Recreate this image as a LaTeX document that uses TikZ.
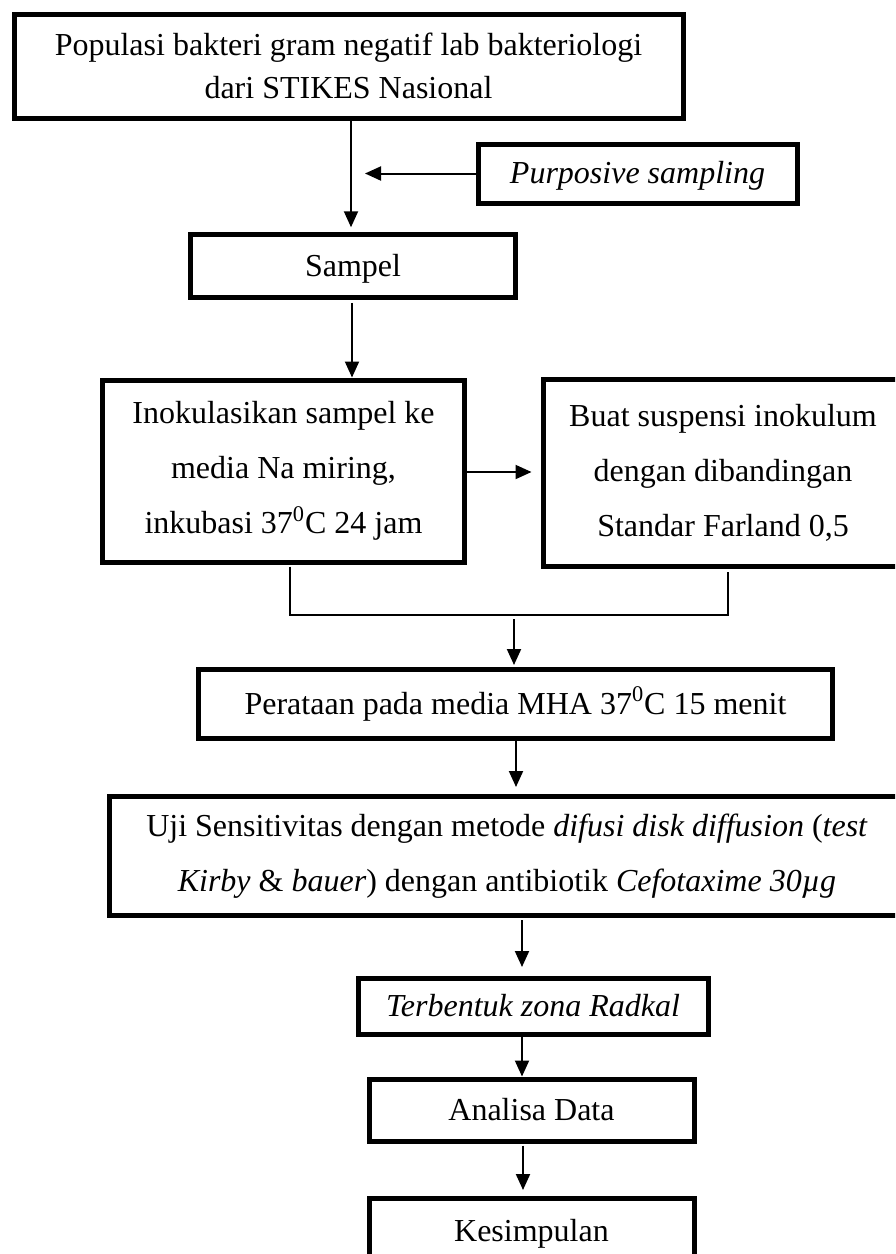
\documentclass[tikz,border=0pt]{standalone}
\usepackage{fontspec}
\setmainfont{Liberation Serif}
\usetikzlibrary{arrows.meta,calc}
\begin{document}
\begin{tikzpicture}[x=0.5pt,y=-0.5pt,
  box/.style={draw, line width=2.5pt, rectangle, inner sep=0pt, align=center,
    font=\fontsize{16}{27.5}\selectfont},
  oneline/.style={text height=13pt, text depth=3pt},
  arr/.style={line width=1pt, -{Triangle[length=8pt,width=7pt]}},
  thinline/.style={line width=0.7pt}]
\clip (0,0) rectangle (895,1254);
\fill[white] (0,0) rectangle (895,1254);

\node[box, minimum width=334.5pt, minimum height=52pt, font=\fontsize{16}{21.5}\selectfont] (top) at (348.5,66)
  {Populasi bakteri gram negatif lab bakteriologi\\dari STIKES Nasional};
\node[box, oneline, minimum width=159.5pt, minimum height=29.5pt] (purp) at (637.5,173.5)
  {\textit{Purposive sampling}};
\node[box, oneline, minimum width=162.5pt, minimum height=31.25pt] (sampel) at (353,266) {Sampel};
\node[box, minimum width=181pt, minimum height=91pt] (inoc) at (283.5,471)
  {Inokulasikan sampel ke\\media Na miring,\\inkubasi 37\textsuperscript{0}C 24 jam};
\node[box, minimum width=180pt, minimum height=93.25pt] (buat) at (723,473)
  {Buat suspensi inokulum\\dengan dibandingan\\Standar Farland 0,5};
\node[box, minimum width=317pt, minimum height=34.5pt] (perataan) at (515.5,704)
  {Perataan pada media MHA 37\textsuperscript{0}C 15 menit};
\node[box, minimum width=397.5pt, minimum height=59.5pt] (uji) at (507,856)
  {Uji Sensitivitas dengan metode \textit{difusi disk diffusion} (\textit{test}\\
   \textit{Kirby} \& \textit{bauer}) dengan antibiotik \textit{Cefotaxime 30µg}};
\node[box, oneline, minimum width=175pt, minimum height=28pt] (terb) at (533,1006)
  {\textit{Terbentuk zona Radkal}};
\node[box, oneline, minimum width=162.5pt, minimum height=31pt] (anal) at (531.5,1110) {Analisa Data};
\node[box, oneline, minimum width=162.5pt, minimum height=33pt] (kes) at (531.5,1231) {Kesimpulan};

\coordinate (xa) at (351,0);
\coordinate (xb) at (352,0);
\coordinate (xc) at (516,0);
\coordinate (xd) at (522,0);
\coordinate (xe) at (523,0);
\coordinate (ya) at (0,472);
\coordinate (pj) at (365,173.5);
\coordinate (bl) at (290,615);
\coordinate (br) at (728,615);
\coordinate (bm) at (514,619);

\draw[arr, shorten >=2.5pt] (top.south -| xa) -- (sampel.north -| xa);
\draw[arr] (purp.west) -- (pj);
\draw[arr, shorten <=1.5pt] (sampel.south -| xb) -- (inoc.north -| xb);
\draw[arr, shorten >=4.5pt] (inoc.east |- ya) -- (buat.west |- ya);
\draw[thinline] ([yshift=-1pt]inoc.south -| bl) -- (bl) -- (br) -- ([yshift=-1.5pt]buat.south -| br);
\draw[arr, shorten >=1pt] (bm) -- (perataan.north -| bm);
\draw[arr, shorten >=3.5pt] (perataan.south -| xc) -- (uji.north -| xc);
\draw[arr, shorten <=1pt, shorten >=4.25pt] (uji.south -| xd) -- (terb.north -| xd);
\draw[arr] (terb.south -| xd) -- (anal.north -| xd);
\draw[arr, shorten <=1pt, shorten >=2.75pt] (anal.south -| xe) -- (kes.north -| xe);
\end{tikzpicture}
\end{document}
